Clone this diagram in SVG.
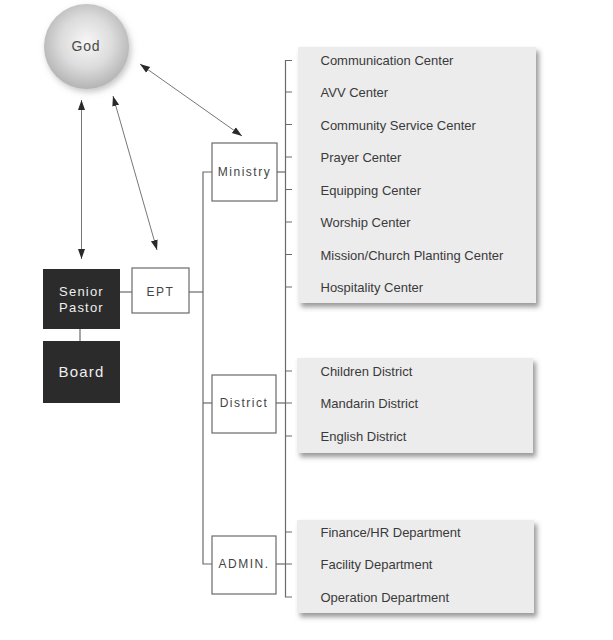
<svg xmlns="http://www.w3.org/2000/svg" width="613" height="640" viewBox="0 0 613 640">
<style>
.ln{stroke:#6a6a6a;stroke-width:1.2;fill:none}
.ar{stroke:#777;stroke-width:1;fill:none;marker-start:url(#ah);marker-end:url(#ah)}
.box{fill:#fff;stroke:#6a6a6a;stroke-width:1.2}
.dark{fill:#2b2b2b}
.bl{font-family:"Liberation Sans",Arial,sans-serif;font-size:12px;fill:#444;letter-spacing:1.5px;text-anchor:middle;dominant-baseline:central}
.wl{font-family:"Liberation Sans",Arial,sans-serif;fill:#eee;letter-spacing:1.2px;text-anchor:middle;dominant-baseline:central}
.it{font-family:"Liberation Sans",Arial,sans-serif;font-size:13px;fill:#3a3a3a;dominant-baseline:central}
.panel{fill:#ececec;filter:url(#sh)}
</style>
<defs>
<marker id="ah" viewBox="0 0 10 10" refX="10" refY="5" markerWidth="10" markerHeight="10" markerUnits="userSpaceOnUse" orient="auto-start-reverse">
<path d="M0,1.5 L10,5 L0,8.5 Z" fill="#2a2a2a"/>
</marker>
<radialGradient id="sph" cx="0.5" cy="0.45" r="0.55">
<stop offset="0" stop-color="#f7f7f7"/>
<stop offset="0.55" stop-color="#dcdcdc"/>
<stop offset="1" stop-color="#b4b4b4"/>
</radialGradient>
<filter id="sh" x="-5%" y="-5%" width="115%" height="125%">
<feDropShadow dx="3" dy="4" stdDeviation="2.5" flood-color="#555" flood-opacity="0.6"/>
</filter>
<filter id="gs" x="-20%" y="-20%" width="150%" height="150%">
<feDropShadow dx="2" dy="3" stdDeviation="3" flood-color="#888" flood-opacity="0.5"/>
</filter>
</defs>
<rect width="613" height="640" fill="#fff"/>

<g id="panels">
<rect class="panel" x="298" y="47" width="238" height="256"/>
<rect class="panel" x="297" y="358" width="236" height="95"/>
<rect class="panel" x="297" y="520" width="237" height="93"/>
</g>

<g id="connectors">
<line class="ar" x1="81.5" y1="100" x2="81.5" y2="259"/>
<line class="ar" x1="113" y1="96" x2="157" y2="250"/>
<line class="ar" x1="140" y1="64" x2="242" y2="136"/>
<line class="ln" x1="80" y1="329" x2="80" y2="341"/>
<line class="ln" x1="120" y1="292" x2="132" y2="292"/>
<line class="ln" x1="189" y1="292" x2="203" y2="292"/>
<path class="ln" d="M212,172 H203 V564 H212"/>
<line class="ln" x1="203" y1="403" x2="212" y2="403"/>
<line class="ln" x1="277" y1="172" x2="285.5" y2="172"/>
<line class="ln" x1="276" y1="403" x2="285.5" y2="403"/>
<line class="ln" x1="276" y1="564" x2="285.5" y2="564"/>
<path class="ln" d="M292,60.5 H285.5 V597 H292"/>
<path class="ln" d="M285.5,92 H292 M285.5,124.5 H292 M285.5,157 H292 M285.5,189.5 H292 M285.5,222 H292 M285.5,254.5 H292 M285.5,287 H292 M285.5,371 H292 M285.5,403 H292 M285.5,436 H292 M285.5,532 H292 M285.5,564 H292"/>
</g>

<g id="god">
<circle cx="86.5" cy="46.5" r="42.5" fill="url(#sph)" filter="url(#gs)"/>
<text x="86" y="46" font-family="Liberation Sans, Arial, sans-serif" font-size="14" fill="#4a4a4a" text-anchor="middle" dominant-baseline="central" letter-spacing="0.8">God</text>
</g>

<g id="senior-pastor">
<rect class="dark" x="43" y="269" width="77" height="60"/>
<text class="wl" x="81.5" y="291" font-size="13">Senior</text>
<text class="wl" x="81.5" y="307" font-size="13">Pastor</text>
</g>
<g id="board">
<rect class="dark" x="43" y="341" width="77" height="62"/>
<text class="wl" x="81.5" y="371" font-size="15">Board</text>
</g>
<g id="ept">
<rect class="box" x="132" y="268" width="57" height="45"/>
<text class="bl" x="160.5" y="292">EPT</text>
</g>
<g id="ministry">
<rect class="box" x="212" y="143" width="65" height="58"/>
<text class="bl" x="244.5" y="172">Ministry</text>
</g>
<g id="district">
<rect class="box" x="212" y="375" width="64" height="58"/>
<text class="bl" x="244" y="403">District</text>
</g>
<g id="admin">
<rect class="box" x="212" y="536" width="64" height="58"/>
<text class="bl" x="244" y="564">ADMIN.</text>
</g>

<g id="items">
<text class="it" x="320.5" y="60.5">Communication Center</text>
<text class="it" x="320.5" y="92.5">AVV Center</text>
<text class="it" x="320.5" y="125">Community Service Center</text>
<text class="it" x="320.5" y="157.5">Prayer Center</text>
<text class="it" x="320.5" y="190">Equipping Center</text>
<text class="it" x="320.5" y="222.5">Worship Center</text>
<text class="it" x="320.5" y="255">Mission/Church Planting Center</text>
<text class="it" x="320.5" y="287.5">Hospitality Center</text>
<text class="it" x="320.5" y="371">Children District</text>
<text class="it" x="320.5" y="403">Mandarin District</text>
<text class="it" x="320.5" y="436">English District</text>
<text class="it" x="320.5" y="532">Finance/HR Department</text>
<text class="it" x="320.5" y="564">Facility Department</text>
<text class="it" x="320.5" y="597">Operation Department</text>
</g>
</svg>
